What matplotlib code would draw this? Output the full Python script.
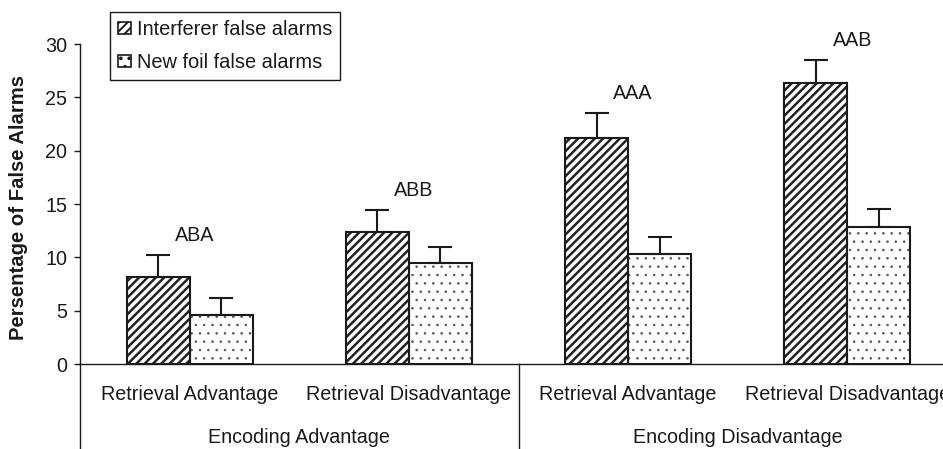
import numpy as np
import matplotlib.pyplot as plt
from matplotlib.patches import Patch

plt.rcParams['font.family'] = ['Liberation Sans', 'DejaVu Sans']

retrieval = ['Retrieval Advantage', 'Retrieval Disadvantage',
             'Retrieval Advantage', 'Retrieval Disadvantage']
encoding = ['Encoding Advantage', 'Encoding Disadvantage']
conditions = ['ABA', 'ABB', 'AAA', 'AAB']

interferer = [8.2, 12.4, 21.2, 26.3]
interferer_err = [2.0, 2.0, 2.3, 2.2]
new_foil = [4.6, 9.5, 10.3, 12.8]
new_foil_err = [1.6, 1.5, 1.6, 1.7]

ink = '#1a1a1a'
W, H = 943, 449
fig = plt.figure(figsize=(W / 100, H / 100), dpi=100)
ax = fig.add_axes([80 / W, (H - 364) / H, (957 - 80) / W, (364 - 44) / H])

x = np.arange(len(retrieval))
bw = 0.287

# stripes: hatch line width is picked up when each patch is made
plt.rcParams['hatch.linewidth'] = 1.8
ax.bar(x - bw / 2, interferer, bw, color='white', edgecolor='#222222',
       hatch='////', linewidth=0, zorder=2)

plt.rcParams['hatch.linewidth'] = 0.6
ax.bar(x + bw / 2, new_foil, bw, color='white', edgecolor='#555555',
       hatch='..', linewidth=0, zorder=2)

# outlines on top
ax.bar(x - bw / 2, interferer, bw, fill=False, edgecolor=ink, linewidth=1.5, zorder=3)
ax.bar(x + bw / 2, new_foil, bw, fill=False, edgecolor=ink, linewidth=1.5, zorder=3)

# one-sided error bars
ax.errorbar(x - bw / 2, interferer, yerr=[np.zeros(4), interferer_err], fmt='none',
            ecolor=ink, elinewidth=1.5, capsize=8.5, capthick=1.5, zorder=4)
ax.errorbar(x + bw / 2, new_foil, yerr=[np.zeros(4), new_foil_err], fmt='none',
            ecolor=ink, elinewidth=1.5, capsize=8.5, capthick=1.5, zorder=4)

for xi, h, e, lab in zip(x, interferer, interferer_err, conditions):
    ax.annotate(lab, (xi, h + e), xytext=(5, 20), textcoords='offset pixels',
                ha='center', va='center', fontsize=14.2, color=ink)

ax.set_xlim(-0.5, 3.5)
ax.set_ylim(0, 30)
ax.set_yticks(np.arange(0, 31, 5))
ax.set_xticks([])
ax.tick_params(axis='y', direction='out', length=4, width=1, colors=ink,
               labelsize=14.2, pad=5)
for s in ['top', 'right']:
    ax.spines[s].set_visible(False)
for s in ['left', 'bottom']:
    ax.spines[s].set_linewidth(1.0)
    ax.spines[s].set_color(ink)

# left axis runs down through the label rows, divider between encoding groups
ax.plot([-0.5, -0.5], [0, -8.2], color=ink, lw=1.0, clip_on=False)
ax.plot([1.5, 1.5], [0, -8.2], color=ink, lw=1.0, clip_on=False)

for xi, lab in zip(x, retrieval):
    ax.text(xi, -2.85, lab, ha='center', va='center', fontsize=14.2, color=ink,
            clip_on=False)
for xi, lab in zip([0.5, 2.5], encoding):
    ax.text(xi, -6.85, lab, ha='center', va='center', fontsize=14.2, color=ink,
            clip_on=False)

fig.text(19 / W, 1 - 208 / H, 'Persentage of False Alarms', rotation=90,
         ha='center', va='center', fontsize=14.6, fontweight='bold', color=ink)

plt.rcParams['hatch.linewidth'] = 1.4
stripe = Patch(facecolor='white', edgecolor=ink, hatch='////', linewidth=1.2)
dots = Patch(facecolor='white', edgecolor=ink, hatch='..', linewidth=1.2)
leg = fig.legend([stripe, dots], ['Interferer false alarms', 'New foil false alarms'],
                 loc='upper left', bbox_to_anchor=(110 / W, 1 - 12 / H),
                 fontsize=14.4, frameon=True, fancybox=False, framealpha=1,
                 edgecolor=ink, handlelength=0.65, handleheight=0.55,
                 handletextpad=0.3, labelspacing=0.7, borderpad=0.4,
                 borderaxespad=0)
leg.get_frame().set_linewidth(1.0)
for t in leg.get_texts():
    t.set_color(ink)

fig.savefig('out.png', dpi=100)
